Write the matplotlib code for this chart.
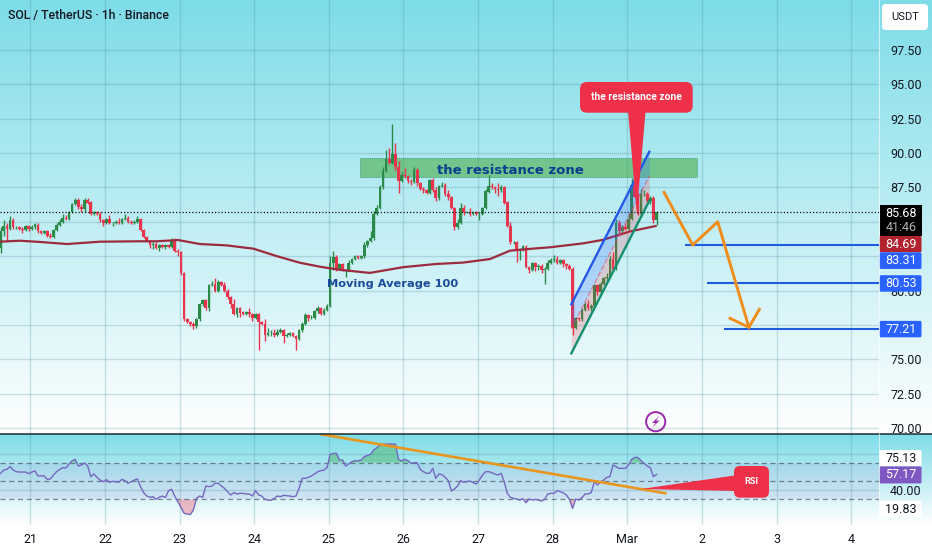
import numpy as np
import matplotlib
matplotlib.use("Agg")
import matplotlib.pyplot as plt
from matplotlib.patches import FancyBboxPatch, Polygon, Rectangle, Circle

plt.rcParams['font.family'] = ['Roboto', 'DejaVu Sans']

first_open = 83.1
closes = [
    84.3, 84.7, 84.5, 85.1, 84.6, 84.6, 84.5, 84.4, 84.7, 84.5,
    84.6, 84.8, 84.3, 84.2, 84.3, 84.0, 83.9, 84.4, 84.8, 85.0,
    85.3, 85.2, 85.7, 86.3, 86.6, 86.1, 85.9, 86.6, 86.4, 85.6,
    85.7, 85.6, 85.1, 84.9, 85.2, 84.9, 84.9, 85.0, 84.9, 85.2,
    85.3, 85.0, 84.9, 85.0, 85.2, 84.4, 83.9, 83.6, 83.3, 83.4,
    83.1, 83.3, 83.2, 83.3, 83.2, 83.7, 82.9, 82.8, 81.25, 77.9,
    77.7, 77.6, 77.4, 77.9, 79.0, 79.3, 78.7, 80.4, 80.5, 80.0,
    80.6, 80.4, 80.0, 79.5, 79.0, 78.3, 78.7, 78.4, 78.3, 78.4,
    78.3, 78.0, 78.3, 77.7, 77.6, 76.8, 76.9, 76.9, 76.8, 77.0,
    77.1, 76.7, 76.8, 76.9, 76.7, 76.5, 77.1, 77.6, 78.2, 78.0,
    78.0, 78.5, 78.7, 78.3, 78.6, 78.9, 82.0, 82.4, 81.6, 81.9,
    81.5, 81.5, 82.0, 82.3, 82.5, 82.4, 82.5, 83.3, 83.6, 83.8,
    85.6, 86.0, 87.5, 88.7, 89.6, 89.3, 89.9, 89.0, 88.0, 88.4,
    88.3, 88.0, 87.9, 88.8, 87.8, 87.4, 87.3, 87.1, 88.0, 87.3,
    86.7, 87.6, 87.7, 87.0, 86.8, 86.0, 84.6, 84.9, 86.0, 85.7,
    85.7, 85.6, 85.7, 85.6, 85.6, 86.0, 87.2, 87.6, 87.5, 87.4,
    87.3, 87.5, 86.4, 84.7, 83.5, 83.5, 83.0, 83.0, 83.2, 81.7,
    81.5, 82.0, 81.7, 81.8, 81.5, 81.6, 82.0, 82.2, 82.3, 82.0,
    82.2, 81.9, 81.8, 81.6, 77.3, 78.0, 77.9, 78.6, 79.0, 78.7,
    78.9, 80.4, 79.9, 80.5, 80.9, 81.0, 82.3, 81.6, 84.9, 84.3,
    84.6, 84.5, 85.2, 87.7, 86.8, 85.6, 87.0, 87.0, 86.5, 86.7,
    85.1, 85.68,
]
wick_up = [
    .3, .4, .2, .3, .2, .1, .1, .1, .1, .1,
    .2, .1, .1, .1, .1, .1, .2, .1, .1, .2,
    .3, .2, .1, .1, .1, .1, .2, .1, .1, .1,
    .1, .1, .1, .1, .1, .3, .1, .1, .3, .1,
    .3, .1, .1, .1, .2, .1, .1, .1, .1, .1,
    .1, .1, .1, .1, .1, .1, .1, .1, .1, .1,
    .1, .1, .1, .1, .1, .1, .1, .1, .2, .4,
    .2, .1, .2, .1, .1, .4, .1, .1, .1, .1,
    .3, .1, .1, .1, .1, .3, .4, .2, .3, .2,
    .2, .1, .1, .1, .1, .1, .1, .1, .2, .1,
    .2, .1, .2, .1, .1, .1, .5, .5, .2, .1,
    .1, .1, .2, .1, .1, .1, .1, .2, .1, .5,
    .2, .2, .2, .3, .6, .8, 2.2, .8, .4, .2,
    .5, .1, .1, .2, .1, .1, .1, .1, .1, .2,
    .2, .1, .2, .1, .3, .1, .1, .3, .4, .2,
    .1, .3, .1, .1, .1, .1, .2, .8, .2, .1,
    .4, .2, .1, .1, .3, .1, .1, .1, .1, .1,
    .1, .1, .1, .1, .1, .1, .2, .2, .3, .2,
    .1, .1, .1, .1, .1, .1, .1, .1, .2, .3,
    .1, .1, .1, .1, .1, .3, .2, .5, .3, .2,
    .2, .3, .4, .5, .6, .3, .4, .3, .2, .2,
    .2, .1,
]
wick_down = [
    .4, .3, .9, .1, .1, .1, .1, .2, .1, .2,
    .1, .1, .1, .1, .1, .1, .1, .1, .1, .1,
    .1, .1, .1, .1, .1, .2, .2, .2, .1, .1,
    .1, .1, .1, .2, .1, .1, .2, .1, .1, .1,
    .1, .1, .1, .1, .1, .1, .1, .1, .2, .3,
    .1, .2, .1, .2, .1, .1, .1, .3, .1, .1,
    .1, .2, .2, .1, .1, .1, .1, .2, .1, .1,
    .1, .1, .1, .1, .3, .1, .2, .3, .1, .1,
    .2, .2, .1, 2.0, .1, .5, .1, .2, .2, .1,
    .1, .5, .1, .1, .1, .8, .1, .1, .1, .2,
    .1, .1, .1, .1, .1, .1, .1, .5, .2, .1,
    .1, .5, .1, .1, .1, .1, .1, .1, .1, .1,
    .1, .1, .1, .1, .1, .1, .1, .2, .9, .1,
    .1, .2, .2, .1, .2, .1, .2, .1, .1, .1,
    .2, .1, .1, .1, .2, .1, .2, .1, .1, .2,
    .1, .2, .1, .1, .5, .1, .1, .1, .1, .3,
    .4, .1, .1, .1, .1, .1, .9, .8, .1, .1,
    .2, .1, .3, .2, .2, 1.0, .1, .1, .1, .1,
    .1, .2, .2, .1, .5, .1, .1, .1, .1, .1,
    .2, .1, .2, .1, .1, .2, .1, .2, .1, .2,
    .1, .1, .1, .1, .1, .1, .2, .1, .1, .2,
    .2, .3,
]
rsi_values = [
    58.4, 62, 62.7, 65.7, 62, 60.2, 59.8, 59.8, 59.8, 58,
    59.8, 61, 55.5, 55.8, 55.5, 51.8, 52.2, 56.6, 60.2, 62.7,
    64.6, 64.2, 68.6, 72.2, 73.7, 66.4, 67.5, 69.7, 66.4, 54.7,
    57.7, 54, 51, 49.3, 51.5, 48.6, 49.6, 49.3, 48.6, 51.8,
    50.4, 47.5, 49.3, 51, 52.2, 43.8, 37.3, 33.6, 32.2, 32.9,
    30, 32.2, 33.6, 31.8, 39.4, 40.9, 33.6, 27.4, 21.2, 14.7,
    14, 13.2, 18.3, 31, 33.6, 32.2, 44.5, 43.8, 44.5, 47.5,
    47.5, 44.5, 42, 38.4, 34.7, 37.3, 35.8, 36.5, 36.5, 35.8,
    35.8, 33.6, 39.4, 34.7, 33.6, 30, 29.2, 28.9, 31, 33.6,
    32.9, 34.3, 34, 33.6, 32.9, 33.6, 42, 52.9, 52.9, 54,
    55.5, 57.7, 60.2, 61.3, 62, 64.6, 79.1, 80.2, 80.2, 73,
    73, 66.4, 68.6, 71.1, 72.2, 72.2, 73, 76.6, 78, 79.1,
    83.9, 86.4, 89, 90.1, 90.4, 90.4, 90.4, 90.4, 73.7, 71.9,
    73.7, 72.2, 69.3, 70, 70, 62.7, 60.2, 58.4, 58.4, 63.8,
    52.9, 57.7, 56.9, 54, 50.4, 39.1, 41.3, 44.5, 50.4, 48.6,
    49.3, 50, 48.2, 46.7, 51, 56.5, 60.2, 60.2, 59.1, 57.6,
    56.5, 58.4, 49.3, 36.5, 32.1, 31, 30.3, 29.2, 30.7, 26.3,
    30.3, 29.2, 29.9, 29.2, 28.1, 29.9, 35.8, 36.5, 36.5, 39.4,
    38.3, 37.2, 34.7, 29.9, 20.1, 30.3, 29.2, 31.8, 35.8, 35.8,
    37.2, 49.3, 45.6, 49.3, 51, 54, 54.7, 67.5, 65.6, 63.8,
    63.8, 63.8, 67.5, 73.7, 75.8, 75.8, 72.2, 69.3, 66.4, 64.5,
    54.7, 57.17,
]
ma_days = [20.59, 20.86, 21.13, 21.49, 21.93, 22.47, 22.69, 22.98, 23.27, 23.63,
           23.99, 24.30, 24.61, 24.88, 25.15, 25.55, 26.0, 26.44, 26.8, 27.16,
           27.43, 27.79, 27.96, 28.41, 28.67, 29.04, 29.38]
ma_values = [83.55, 83.62, 83.53, 83.38, 83.55, 83.58, 83.58, 83.67, 83.38, 83.28,
             83.04, 82.5, 82.02, 81.73, 81.5, 81.28, 81.7, 81.93, 82.03, 82.29,
             82.9, 83.07, 83.14, 83.43, 83.68, 84.3, 84.69]

day_ticks = [21, 22, 23, 24, 25, 26, 27, 28, 29, 30, 31, 32]
day_labels = ['21', '22', '23', '24', '25', '26', '27', '28', 'Mar', '2', '3', '4']
price_ticks = [70, 72.5, 75, 77.5, 80, 82.5, 85, 87.5, 90, 92.5, 95, 97.5]
covered_ticks = [77.5, 82.5, 85]  # sit fully behind the price boxes
rsi_ticks = [40, 80]
rsi_guides = [30, 50, 70]

last_price = 85.68
countdown = '41:46'
ma_last = 84.69
targets = [83.31, 80.53, 77.21]
target_starts = [29.773, 30.07, 30.29]
rsi_last = 57.17
rsi_smoothed = 75.13
rsi_low = 19.83

zone_days = [25.417, 29.93]
zone_prices = [88.28, 89.64]
channel_days = [28.25, 29.295]
channel_top = [79.0, 90.09]
channel_bottom = [75.43, 86.53]
path_days = [29.492, 29.877, 30.212, 30.63, 30.77]
path_prices = [87.14, 83.31, 85.0, 77.32, 78.63]
head_days = [30.377, 30.63]
head_prices = [77.98, 77.32]
rsi_trend_days = [24.9, 29.51]
rsi_trend_values = [101, 36.6]

GREEN = '#2c8a48'
RED = '#e8344c'
CALLOUT = '#ee3049'
NAVY = '#131722'
PANE_W = 879
W, H = 932, 550

times = 20.6 + np.arange(len(closes)) / 24
closes = np.array(closes)
opens = np.r_[first_open, closes[:-1]]
highs = np.maximum(opens, closes) + np.array(wick_up)
lows = np.minimum(opens, closes) - np.array(wick_down)
rsi_values = np.array(rsi_values)
colors = [GREEN if c >= o else RED for o, c in zip(opens, closes)]

fig = plt.figure(figsize=(W / 100, H / 100), dpi=100, facecolor='white')


def gradient(top, bottom):
    steps = np.linspace(0, 1, 256)[:, None, None]
    start = np.array([125, 220, 232])[None, None, :] / 255
    img = start + (1 - start) * steps
    ax = fig.add_axes([0, 1 - bottom / H, 1, (bottom - top) / H], zorder=0)
    ax.imshow(img, aspect='auto')
    ax.axis('off')


gradient(0, 434)
gradient(434, 525)

ax_price = fig.add_axes([0, 1 - 434 / H, PANE_W / W, 434 / H], zorder=1)
ax_rsi = fig.add_axes([0, 1 - 525 / H, PANE_W / W, 91 / H], zorder=1)
xlim = (21 - 30.5 / 74.6, 21 + (PANE_W - 30.5) / 74.6)

for ax in (ax_price, ax_rsi):
    ax.patch.set_visible(False)
    ax.set_xlim(xlim)
    ax.set_xticks(day_ticks)
    ax.yaxis.tick_right()
    ax.tick_params(length=0, labelsize=9, labelcolor=NAVY)
    ax.grid(color='#4a8c9c', alpha=0.25, lw=1)
    ax.set_axisbelow(True)
    for spine in ax.spines.values():
        spine.set_visible(False)

# price pane
ax_price.set_ylim(70 - 6 / 13.75, 70 + 428 / 13.75)
ax_price.set_yticks(price_ticks)
ax_price.set_yticklabels(['' if p in covered_ticks else '%.2f' % p for p in price_ticks])
ax_price.tick_params(axis='y', pad=8)
ax_price.tick_params(axis='x', labelbottom=False)

ax_price.add_patch(Rectangle((zone_days[0], zone_prices[0]), zone_days[1] - zone_days[0],
                             zone_prices[1] - zone_prices[0], facecolor='#4caf50', alpha=0.62,
                             edgecolor='#1e6b3a', ls=(0, (1, 1)), lw=0.7, zorder=2))
ax_price.vlines(times, lows, highs, colors=colors, lw=1, zorder=3)
ax_price.bar(times, np.abs(closes - opens), bottom=np.minimum(opens, closes), width=0.036,
             color=colors, zorder=4)
ax_price.plot(ma_days, ma_values, color='#9c2b3e', lw=1.6, zorder=5)
ax_price.axhline(last_price, color='#111111', ls=(0, (1, 1.6)), lw=0.9, zorder=5)

channel_mid = [(a + b) / 2 for a, b in zip(channel_top, channel_bottom)]
ax_price.fill_between(channel_days, channel_mid, channel_top, color='#2962ff', alpha=0.22, lw=0, zorder=6)
ax_price.fill_between(channel_days, channel_bottom, channel_mid, color='#f23645', alpha=0.2, lw=0, zorder=6)
ax_price.plot(channel_days, channel_mid, color='#f23645', alpha=0.5, lw=1, ls='--', zorder=6)
ax_price.plot(channel_days, channel_top, color='#2458e6', lw=1.7, zorder=7)
ax_price.plot(channel_days, channel_bottom, color='#14906e', lw=1.7, zorder=7)

for start, level in zip(target_starts, targets):
    ax_price.hlines(level, start, xlim[1], color='#1f5be0', lw=1.5, zorder=7)
ax_price.plot(path_days, path_prices, color='#f08c1a', lw=2.1, zorder=8)
ax_price.plot(head_days, head_prices, color='#f08c1a', lw=2.1, zorder=8)

ax_price.text(27.43, 88.72, 'the resistance zone', color='#0c3f8f', fontsize=9.5, weight='bold',
              family='DejaVu Sans', ha='center', va='center', zorder=9)
ax_price.text(25.85, 80.5, 'Moving Average 100', color='#1a4a9a', fontsize=8.2, weight='bold',
              family='DejaVu Sans', ha='center', va='center', zorder=9)

# rsi pane
ax_rsi.set_ylim(70 - (525 - 462.7) / 0.915, 70 + (462.7 - 434) / 0.915)
ax_rsi.set_yticks(rsi_ticks)
ax_rsi.set_yticklabels(['%.2f' % r for r in rsi_ticks])
ax_rsi.tick_params(axis='y', pad=8)
ax_rsi.set_xticklabels(day_labels)
ax_rsi.tick_params(axis='x', pad=6)

ax_rsi.axhspan(rsi_guides[0], rsi_guides[2], color='#7e57c2', alpha=0.1, lw=0)
for level in rsi_guides:
    ax_rsi.axhline(level, color='#4b5563', lw=0.9, ls=(0, (4, 3)), alpha=0.7)
ax_rsi.fill_between(times, 70, rsi_values, where=rsi_values > 70, color='#3fae5a', alpha=0.45,
                    lw=0, interpolate=True)
ax_rsi.fill_between(times, 30, rsi_values, where=rsi_values < 30, color='#f0506a', alpha=0.38,
                    lw=0, interpolate=True)
ax_rsi.plot(times, rsi_values, color='#7467c0', lw=1)
ax_rsi.plot(rsi_trend_days, rsi_trend_values, color='#e8961e', lw=1.9, zorder=5)

# overlay in pixels for the labels and callouts
over = fig.add_axes([0, 0, 1, 1], zorder=3)
over.set_xlim(0, W)
over.set_ylim(H, 0)
over.axis('off')


def price_y(ax, value):
    return H - ax.transData.transform((xlim[0], value))[1]


def axis_box(y0, y1, color, label=None, text_color='white'):
    over.add_patch(FancyBboxPatch((879.5, y0), 42, y1 - y0, boxstyle='round,pad=0,rounding_size=1.5',
                                  facecolor=color, edgecolor='none'))
    if label:
        over.text(901, (y0 + y1) / 2, label, color=text_color, fontsize=9, ha='center', va='center')


over.plot([0, W], [434, 434], color='#1c2a33', lw=1.1)
over.plot([878.5, 878.5], [0, 525], color='white', lw=0.8, alpha=0.6)

over.text(8, 16, 'SOL / TetherUS · 1h · Binance', color=NAVY, fontsize=8.8, weight='medium', va='center')
over.add_patch(FancyBboxPatch((882, 4), 46, 26, boxstyle='round,pad=0,rounding_size=4',
                              facecolor='white', edgecolor='none'))
over.text(905, 17, 'USDT', color=NAVY, fontsize=8, ha='center', va='center')

over.add_patch(Rectangle((879.5, 205), 42, 31, facecolor='black'))
over.text(901, 213.5, '%.2f' % last_price, color='white', fontsize=9, ha='center', va='center')
over.text(901, 227.5, countdown, color='#b0b0b0', fontsize=9, ha='center', va='center')
axis_box(236, 252.3, '#b2222f', '%.2f' % ma_last)
axis_box(252.3, 269, '#2962ff', '%.2f' % targets[0])
y = price_y(ax_price, targets[1])
axis_box(y - 8, y + 8.5, '#2962ff', '%.2f' % targets[1])
y = price_y(ax_price, targets[2])
axis_box(y - 8, y + 8.5, '#2962ff', '%.2f' % targets[2])
y = price_y(ax_rsi, rsi_smoothed)
axis_box(y - 8, y + 8, 'white', '%.2f' % rsi_smoothed, NAVY)
y = price_y(ax_rsi, rsi_last)
axis_box(y - 8, y + 9, '#7e57c2', '%.2f' % rsi_last)
y = price_y(ax_rsi, rsi_low)
axis_box(y - 8, y + 9, 'white', '%.2f' % rsi_low, NAVY)

# callouts
over.add_patch(Polygon([(628, 110), (645.7, 110), (636.7, 213)], facecolor=CALLOUT, edgecolor='none'))
over.add_patch(FancyBboxPatch((580, 82), 112.7, 30.7, boxstyle='round,pad=0,rounding_size=7',
                              facecolor=CALLOUT, edgecolor='none'))
over.text(636.3, 97, 'the resistance zone', color='white', fontsize=7.4, weight='bold',
          ha='center', va='center')
over.add_patch(Polygon([(738, 475), (738, 491), (641, 489)], facecolor=CALLOUT, edgecolor='none'))
over.add_patch(FancyBboxPatch((734, 466), 35, 31.7, boxstyle='round,pad=0,rounding_size=6',
                              facecolor=CALLOUT, edgecolor='none'))
over.text(751.5, 482, 'RSI', color='white', fontsize=6.6, weight='bold', ha='center', va='center')

over.add_patch(Circle((655.7, 421.7), 9.6, facecolor='none', edgecolor='#9c27b0', lw=1.4))
over.add_patch(Polygon([(659.5, 415.5), (652, 423), (655.5, 423), (652, 428), (659.5, 420.5), (656, 420.5)],
                       facecolor='#9c27b0', edgecolor='none'))

fig.savefig('out.png', dpi=100)
